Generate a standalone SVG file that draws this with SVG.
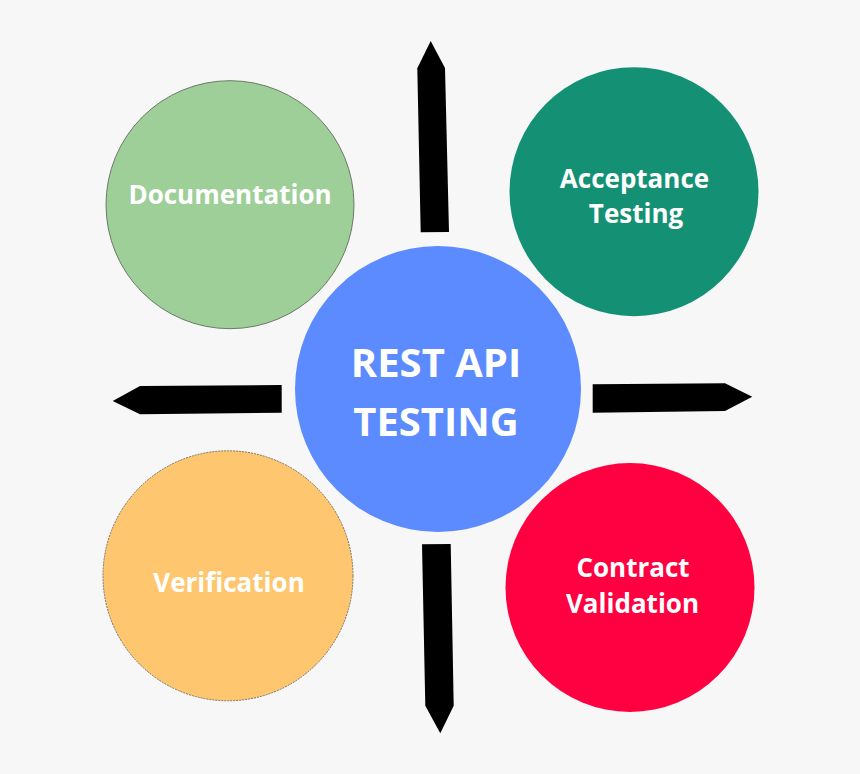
<svg xmlns="http://www.w3.org/2000/svg" width="860" height="774" viewBox="0 0 860 774">
<style>
.t{font-family:"Open Sans","Noto Sans","Liberation Sans",sans-serif;font-weight:bold;fill:#ffffff;text-anchor:middle;}
.s{font-size:26px;}
.b{font-size:40px;}
.arr{fill:#000000;}
</style>
<rect width="860" height="774" fill="#f7f7f7"/>
<g id="connectors">
<polygon class="arr" points="430.7,41 445,68 449,232 420.7,232.3 417.3,68.3"/>
<polygon class="arr" points="112.7,401 140,386 281.7,385 281.7,412.7 140,414.3"/>
<polygon class="arr" points="592.7,384.3 725,383.3 752.3,396.7 725,411 592.7,412.7"/>
<polygon class="arr" points="422,544.3 450.7,544 453.7,705.7 440.3,733.3 425.3,705.7"/>
</g>
<g id="documentation">
<circle cx="230" cy="204.7" r="124" fill="#9fcf99" stroke="#6a7a66" stroke-width="1"/>
<text class="t s" x="230" y="204">Documentation</text>
</g>
<g id="acceptance">
<circle cx="634" cy="191.7" r="124.5" fill="#149174"/>
<text class="t s" x="634.5" y="187.7">Acceptance</text>
<text class="t s" x="636" y="223.3">Testing</text>
</g>
<g id="verification">
<circle cx="228" cy="575.8" r="125" fill="#fec76f" stroke="#7a7060" stroke-width="1" stroke-dasharray="2 1"/>
<text class="t s" x="229" y="591.7">Verification</text>
</g>
<g id="contract">
<circle cx="630" cy="587.5" r="124.5" fill="#ff0040"/>
<text class="t s" x="633" y="577.3">Contract</text>
<text class="t s" x="632.5" y="613.3">Validation</text>
</g>
<g id="rest-api">
<circle cx="438" cy="389" r="143" fill="#5b8bff"/>
<text class="t b" x="436" y="376.7">REST API</text>
<text class="t b" x="436" y="435.7">TESTING</text>
</g>
</svg>
